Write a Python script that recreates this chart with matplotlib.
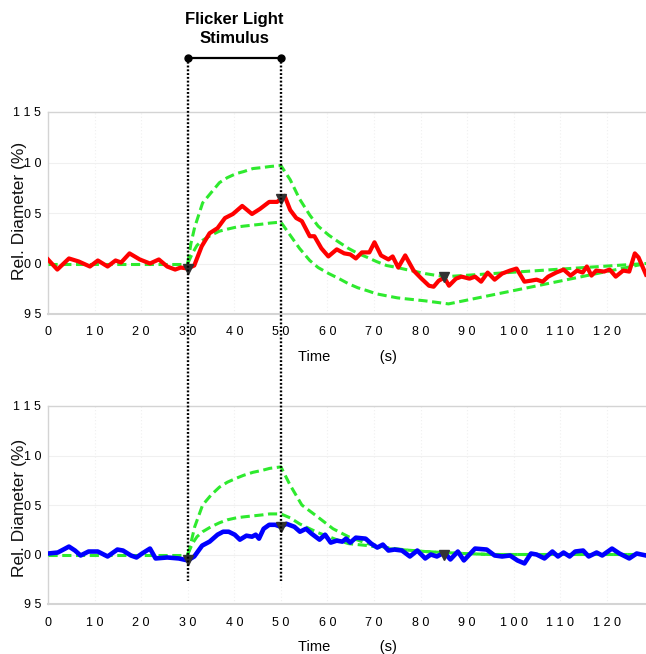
import matplotlib
matplotlib.use("Agg")
import matplotlib.pyplot as plt
from matplotlib.transforms import blended_transform_factory
from matplotlib import font_manager

# ---------------- data ----------------
x_ticks = [0, 10, 20, 30, 40, 50, 60, 70, 80, 90, 100, 110, 120]
x_tick_labels = ["0", "1 0", "2 0", "3 0", "4 0", "5 0", "6 0", "7 0", "8 0", "9 0",
                 "1 0 0", "1 1 0", "1 2 0"]
y_ticks = [95, 100, 105, 110, 115]
y_tick_labels = ["9 5", "0 0", "0 5", "1 0", "1 1 5"]

stim_on, stim_off = 30, 50

# top panel (red)
red_t = [0, 2, 4.5, 6.6, 9, 10.7, 12.8, 14.5, 15.7, 17.5, 19.7, 21.9, 23.8, 25.6, 27.3,
         28.5, 30, 31.4, 33, 34.7, 36.4, 38, 39.7, 41.7, 43.8, 45.5, 47.5, 49.2, 50.8,
         52, 53.3, 54.5, 56.2, 57.2, 58.7, 60.2, 62, 63.6, 64.9, 66.1, 67.4, 69, 70.1,
         71.5, 73.1, 74, 75.2, 76.7, 78.5, 80.2, 81.8, 82.8, 83.9, 85.1, 86.1, 87.6,
         88.8, 90.5, 91.7, 93, 94.4, 95.9, 97.5, 99.2, 100.6, 102.3, 103.7, 104.9,
         106.2, 107.4, 109.1, 110.7, 112.2, 113.6, 114.8, 115.7, 116.7, 117.7, 119.4,
         120.6, 121.9, 123.5, 124.8, 126, 126.8, 128.4]
red_v = [100.4, 99.4, 100.5, 100.2, 99.7, 100.3, 99.7, 100.3, 100.1, 101.0, 100.4, 100.0,
         100.4, 99.7, 99.4, 99.6, 99.5, 99.8, 101.7, 103.0, 103.5, 104.5, 104.9, 105.7,
         104.9, 105.4, 106.1, 106.1, 106.7, 105.3, 104.5, 104.2, 102.7, 102.7, 101.5,
         100.7, 101.4, 101.0, 100.9, 100.5, 101.1, 101.1, 102.1, 100.8, 100.4, 100.7,
         99.6, 100.8, 99.3, 98.5, 97.8, 97.7, 98.3, 98.6, 97.8, 98.5, 98.7, 98.5, 98.7,
         98.2, 99.1, 98.4, 99.0, 99.3, 99.5, 98.2, 98.3, 98.4, 98.2, 98.7, 99.1, 99.4,
         98.8, 99.3, 99.1, 99.7, 98.8, 99.3, 99.2, 99.4, 98.7, 99.3, 99.2, 101.0, 100.6,
         98.9]
red_mark_t = [30, 50, 85]
red_mark_v = [99.5, 106.4, 98.7]

top_base_t = [0, 30]
top_base_v = [100, 100]
top_up_t = [30, 30.7, 31.5, 33.2, 35, 36.8, 38.5, 40.4, 42, 44, 46, 47.6, 50,
            52, 54, 56.2, 58, 60.3, 62.5, 64.5, 66.5, 68.6, 70.5, 72.7, 75, 76.9,
            79, 81, 83, 85.5, 128.4]
top_up_v = [100, 102.0, 103.6, 106.0, 107.0, 108.0, 108.5, 108.9, 109.1, 109.4, 109.5,
            109.6, 109.7, 108.3, 106.4, 104.8, 103.7, 102.8, 102.1, 101.5, 101.0, 100.6,
            100.2, 99.8, 99.6, 99.4, 99.2, 99.0, 98.85, 98.7, 100.0]
top_lo_t = [30, 31, 32, 33.2, 35, 36.8, 38.5, 40.4, 42, 44, 46, 47.6, 50,
            52, 54, 56.2, 58, 60.3, 62.5, 64.5, 66.5, 68.6, 70.5, 72.7, 75, 76.9,
            79, 81, 83.5, 86, 128.4]
top_lo_v = [100, 101.0, 101.8, 102.3, 102.8, 103.2, 103.4, 103.6, 103.7, 103.8, 103.9,
            104.0, 104.1, 102.8, 101.5, 100.3, 99.6, 99.0, 98.5, 98.0, 97.6, 97.3, 97.0,
            96.8, 96.6, 96.5, 96.4, 96.3, 96.15, 96.0, 100.0]

# bottom panel (blue)
blue_t = [0, 2.1, 4.5, 5.8, 7, 8.7, 10.7, 12.8, 14.9, 16.1, 17.8, 19, 20.2, 21.9, 23.1,
          25.6, 28.1, 30, 31.4, 33.1, 34.7, 36.4, 37.6, 38.8, 40.1, 41.2, 42.6, 43.8,
          44.6, 45.3, 46.3, 47.5, 48.8, 50, 51.2, 52.9, 54.1, 55.4, 56.6, 58.3, 59.5,
          60.7, 62, 63.2, 64, 64.9, 66.1, 68.2, 69.4, 70.7, 71.9, 73.1, 74.4, 76, 77.7,
          79.3, 81, 82.2, 83.5, 85.1, 86.4, 88, 89.3, 91.7, 94.2, 95.9, 97.5, 99.2,
          100.8, 102.3, 103.7, 104.9, 106.6, 108.3, 109.5, 110.7, 112, 113.2, 114.9,
          116.1, 117.8, 119, 121.1, 122.7, 124.8, 126.4, 128.4]
blue_v = [100.1, 100.2, 100.8, 100.4, 99.9, 100.3, 100.3, 99.8, 100.5, 100.4, 99.9, 99.7,
          100.1, 100.6, 99.6, 99.7, 99.6, 99.4, 99.8, 100.9, 101.3, 102.0, 102.3, 102.3,
          102.0, 101.5, 101.9, 101.8, 102.0, 101.6, 102.6, 103.0, 103.0, 102.8, 103.1,
          102.8, 102.3, 102.6, 102.1, 101.5, 102.0, 101.2, 101.4, 101.3, 101.6, 101.2,
          101.7, 101.6, 101.1, 100.7, 101.0, 100.4, 100.5, 100.4, 99.8, 100.4, 99.6,
          100.0, 99.8, 100.2, 99.5, 100.3, 99.4, 100.6, 100.5, 99.9, 99.8, 99.9, 99.4,
          99.1, 100.1, 100.0, 99.6, 100.3, 99.8, 100.2, 99.8, 100.3, 100.4, 99.8, 100.2,
          99.9, 100.6, 100.1, 99.6, 100.1, 99.9]
blue_mark_t = [30, 50, 85]
blue_mark_v = [99.4, 102.8, 100.0]

bot_base_t = [0, 30]
bot_base_v = [100, 100]
bot_up_t = [30, 30.5, 31.5, 33.2, 35, 36.8, 38.5, 40.4, 42, 44, 46, 47.6, 50,
            52, 54.5, 57.9, 61.2, 64.5, 68.6, 72.7, 77, 81, 85, 89.3, 95, 128.4]
bot_up_v = [100, 100.8, 102.8, 105.0, 106.0, 106.8, 107.3, 107.7, 108.0, 108.3, 108.5,
            108.7, 108.85, 107.0, 105.0, 103.8, 102.6, 101.8, 101.1, 100.7, 100.45, 100.3,
            100.2, 100.1, 100.0, 100.0]
bot_lo_t = [30, 31, 32, 33.2, 35, 36.8, 38.5, 40.4, 42, 44, 46, 47.6, 50,
            52, 54, 56.2, 58, 60.3, 62.5, 64.5, 68.6, 72.7, 77, 81, 85, 89.3, 95, 128.4]
bot_lo_v = [100, 101.1, 101.8, 102.3, 102.8, 103.2, 103.5, 103.7, 103.8, 103.9, 104.0,
            104.1, 104.1, 103.7, 103.1, 102.6, 102.2, 101.8, 101.4, 101.1, 100.9, 100.6,
            100.45, 100.3, 100.2, 100.1, 100.0, 100.0]

# ---------------- style ----------------
names = {f.name for f in font_manager.fontManager.ttflist}
narrow = "Liberation Sans Narrow" if "Liberation Sans Narrow" in names else "Liberation Sans"
plt.rcParams["font.family"] = ["Liberation Sans", "DejaVu Sans"]

GREEN = "#2eea2e"
XMAX = 128.4

fig = plt.figure(figsize=(6.46, 6.54), dpi=100)
ax_top = fig.add_axes([48 / 646, 1 - 314 / 654, 1 - 48 / 646, 202 / 654])
ax_bot = fig.add_axes([48 / 646, 1 - 604 / 654, 1 - 48 / 646, 198 / 654])
for a in (ax_top, ax_bot):
    a.set_facecolor("none")


def style_axes(ax, ylabel_y):
    ax.set_xlim(0, XMAX)
    ax.set_ylim(95, 115)
    ax.set_xticks(x_ticks)
    ax.set_xticklabels(x_tick_labels, fontfamily=narrow, fontsize=9)
    ax.set_yticks(y_ticks)
    ax.set_yticklabels(y_tick_labels, fontfamily=narrow, fontsize=9)
    ax.tick_params(length=0, pad=9)
    ax.tick_params(axis="y", pad=5)
    ax.spines["right"].set_visible(False)
    for s in ["left", "top", "bottom"]:
        ax.spines[s].set_color("#d4d4d4")
        ax.spines[s].set_linewidth(1.0)
    ax.spines["bottom"].set_linewidth(1.5)
    for yv in [100, 105, 110]:
        ax.axhline(yv, color="#f0f0f0", lw=0.8, zorder=0)
    for xv in x_ticks[1:]:
        ax.axvline(xv, color="#f0f0f0", lw=0.8, ls=(0, (1, 2)), zorder=0)
    fig.text(20 / 646, ylabel_y, "Rel. Diameter (%)", rotation=90, ha="center",
             va="center", fontsize=12.5, color="#111111")
    ax.text(0.5, -0.215, "Time            (s)", transform=ax.transAxes, ha="center",
            va="center", fontfamily=narrow, fontsize=10.5)


style_axes(ax_top, 1 - 211 / 654)
style_axes(ax_bot, 1 - 508 / 654)

dash = (0, (3.0, 1.5))
for ax, base_t, base_v, up_t, up_v, lo_t, lo_v in [
        (ax_top, top_base_t, top_base_v, top_up_t, top_up_v, top_lo_t, top_lo_v),
        (ax_bot, bot_base_t, bot_base_v, bot_up_t, bot_up_v, bot_lo_t, bot_lo_v)]:
    for tt, vv in [(base_t, base_v), (up_t, up_v), (lo_t, lo_v)]:
        ax.plot(tt, vv, color=GREEN, lw=2.2, ls=dash, zorder=3)

ax_top.plot(red_t, red_v, color="#ff0000", lw=3.0, zorder=4, solid_joinstyle="round")
ax_bot.plot(blue_t, blue_v, color="#0000ff", lw=3.3, zorder=4, solid_joinstyle="round")
ax_top.plot(red_mark_t, red_mark_v, ls="none", marker="v", ms=7, color="#333333", zorder=6)
ax_bot.plot(blue_mark_t, blue_mark_v, ls="none", marker="v", ms=7, color="#333333", zorder=6)

# stimulus markers spanning both panels (drawn on the figure, above both axes)
tr = blended_transform_factory(ax_top.transData, fig.transFigure)
y_top = 1 - 58 / 654
y_bottom = 1 - 581 / 654
for xs in [stim_on, stim_off]:
    ln = plt.Line2D([xs, xs], [y_top, y_bottom], transform=tr, color="black", lw=1.7,
                    ls=(0, (0.8, 0.8)), zorder=10)
    fig.add_artist(ln)
fig.add_artist(plt.Line2D([stim_on, stim_off], [y_top, y_top], transform=tr,
                          color="black", lw=1.6, marker="o", ms=5, zorder=11))
fig.text((stim_on + stim_off) / 2, 1 - 29 / 654, "Flicker Light\nStimulus", transform=tr,
         ha="center", va="center", fontsize=12, fontweight="bold", linespacing=1.3)

fig.savefig("out.png", dpi=100)
